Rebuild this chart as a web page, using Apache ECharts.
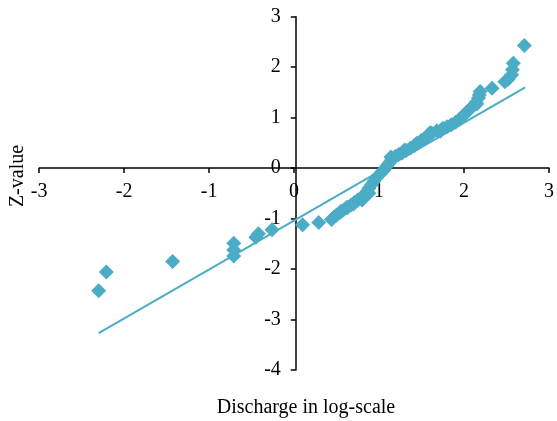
<!DOCTYPE html>
<html>
<head>
<meta charset="utf-8">
<script src="https://cdn.jsdelivr.net/npm/echarts@6/dist/echarts.min.js"></script>
<style>
  html, body { margin: 0; padding: 0; background: #fff; }
  #chart { width: 557px; height: 421px; }
</style>
</head>
<body>
<div id="chart"></div>
<script>
// observed points (discharge in log-scale vs Z-value)
const dischargeLog = [
  -2.3, -2.21, -1.43, -0.71, -0.71, -0.71, -0.45, -0.42, -0.26,
  0.10, 0.29, 0.44, 0.47, 0.50, 0.54, 0.58, 0.62, 0.67, 0.71, 0.75, 0.79,
  0.83, 0.86, 0.88, 0.91, 0.94, 0.97, 1.00, 1.03, 1.06, 1.09, 1.12, 1.15,
  1.19, 1.23, 1.27, 1.32, 1.37, 1.42, 1.46, 1.50, 1.54, 1.58, 1.62, 1.68,
  1.75, 1.80, 1.85, 1.90, 1.94, 1.98, 2.02, 2.06, 2.10, 2.14, 2.17, 2.19,
  2.33, 2.48, 2.56, 2.58, 2.71,
  0.55, 0.63, 0.70, 0.80, 0.88, 1.14, 1.30, 1.44, 1.60, 1.72,
  2.15, 2.18, 2.52, 2.57
]
const zValue = [
  -2.43, -2.06, -1.85, -1.74, -1.62, -1.49, -1.37, -1.30, -1.22,
  -1.12, -1.08, -1.02, -0.97, -0.93, -0.88, -0.83, -0.78, -0.73, -0.68, -0.63, -0.58,
  -0.53, -0.46, -0.40, -0.33, -0.26, -0.19, -0.13, -0.08, -0.03, 0.04, 0.10, 0.17,
  0.23, 0.27, 0.30, 0.35, 0.40, 0.45, 0.50, 0.55, 0.59, 0.64, 0.69, 0.74,
  0.79, 0.82, 0.86, 0.91, 0.96, 1.02, 1.09, 1.15, 1.22, 1.30, 1.39, 1.52,
  1.58, 1.71, 1.85, 2.08, 2.43,
  -0.86, -0.78, -0.71, -0.63, -0.50, 0.22, 0.36, 0.49, 0.70, 0.73,
  1.27, 1.45, 1.76, 1.95
]
// fitted line endpoints
const trendX = [-2.3, 2.72]
const trendY = [-3.27, 1.60]

const xTicks = [-3, -2, -1, 0, 1, 2, 3]
const yTicks = [-4, -3, -2, -1, 0, 1, 2, 3]

const teal = '#4BACC6'
const font = '"Liberation Serif", "Times New Roman", serif'

const chart = echarts.init(document.getElementById('chart'))

// axes cross at zero: shift them inward from the grid edges
const gridLeft = 39.2, gridRight = 4.6, gridTop = 16.7, gridBottom = 51
const plotW = 557 - gridLeft - gridRight
const plotH = 421 - gridTop - gridBottom
const xZeroOffset = -plotW * (0 - xTicks[0]) / (xTicks[xTicks.length - 1] - xTicks[0])
const yZeroOffset = -plotH * (0 - yTicks[0]) / (yTicks[yTicks.length - 1] - yTicks[0])

const option = {
  animation: false,
  grid: { left: gridLeft, right: gridRight, top: gridTop, bottom: gridBottom },
  xAxis: {
    type: 'value',
    position: 'bottom',
    offset: yZeroOffset,
    min: xTicks[0],
    max: xTicks[xTicks.length - 1],
    interval: 1,
    axisLine: { onZero: false, lineStyle: { color: '#000', width: 1.5 } },
    axisTick: { show: true, length: 5, lineStyle: { color: '#000', width: 1.5 } },
    axisLabel: { margin: 14, color: '#000', fontFamily: font, fontSize: 20 },
    splitLine: { show: false }
  },
  yAxis: {
    type: 'value',
    position: 'left',
    offset: xZeroOffset,
    min: yTicks[0],
    max: yTicks[yTicks.length - 1],
    interval: 1,
    axisLine: { onZero: false, lineStyle: { color: '#000', width: 1.5 } },
    axisTick: { show: true, length: 5, lineStyle: { color: '#000', width: 1.5 } },
    axisLabel: { margin: 15, color: '#000', fontFamily: font, fontSize: 20 },
    splitLine: { show: false }
  },
  graphic: [
    {
      type: 'text',
      x: 306,
      y: 408,
      style: {
        text: 'Discharge in log-scale', fill: '#000', font: '20px ' + font,
        align: 'center', verticalAlign: 'middle'
      }
    },
    {
      type: 'text',
      x: 18,
      y: 176,
      rotation: Math.PI / 2,
      style: {
        text: 'Z-value', fill: '#000', font: '20px ' + font,
        align: 'center', verticalAlign: 'middle'
      }
    }
  ],
  series: [
    {
      type: 'line',
      data: trendX.map((x, i) => [x, trendY[i]]),
      symbol: 'none',
      lineStyle: { color: teal, width: 2 },
      z: 2
    },
    {
      type: 'scatter',
      data: dischargeLog.map((x, i) => [x, zValue[i]]),
      symbol: 'diamond',
      symbolSize: 15,
      itemStyle: { color: teal, opacity: 1 },
      z: 3
    }
  ]
}

chart.setOption(option)
</script>
</body>
</html>
